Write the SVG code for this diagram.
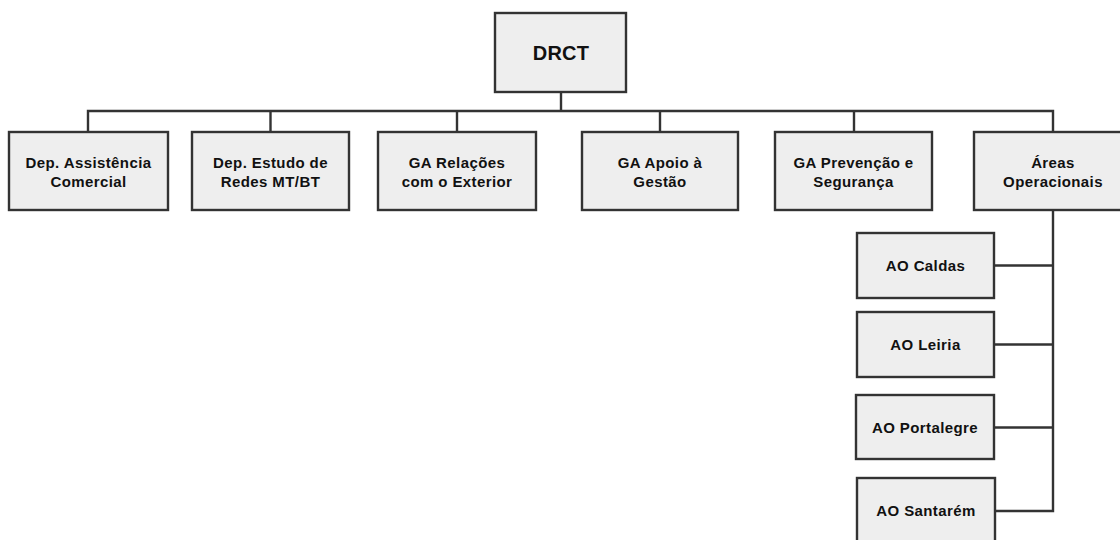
<svg xmlns="http://www.w3.org/2000/svg" width="1120" height="540" viewBox="0 0 1120 540">
  <style>
    .box { fill: #eeeeee; stroke: #333333; stroke-width: 2.4; }
    .lbl { font-family: "Liberation Sans", Arial, sans-serif; font-weight: bold; font-size: 15px; letter-spacing: 0.4px; fill: #111111; text-anchor: middle; }
    .big { font-size: 20px; letter-spacing: 0.2px; }
    .wire { fill: none; stroke: #333333; stroke-width: 2.4; }
  </style>
  <rect width="1120" height="540" fill="#ffffff"/>

  <!-- connectors -->
  <g id="connectors">
    <path class="wire" d="M561 92 V111"/>
    <path class="wire" d="M88 132 V111 H1053 V132"/>
    <path class="wire" d="M270.5 111 V132"/>
    <path class="wire" d="M457 111 V132"/>
    <path class="wire" d="M660 111 V132"/>
    <path class="wire" d="M854 111 V132"/>
    <path class="wire" d="M1053 210 V511 H995"/>
    <path class="wire" d="M994 265.5 H1053"/>
    <path class="wire" d="M994 344.5 H1053"/>
    <path class="wire" d="M994 427.5 H1053"/>
  </g>

  <g id="drct">
    <rect class="box" x="495" y="13" width="131" height="79"/>
    <text class="lbl big" x="561" y="60">DRCT</text>
  </g>

  <g id="dep-assistencia">
    <rect class="box" x="9" y="132" width="159" height="78"/>
    <text class="lbl" x="88.5" y="168">Dep. Assistência</text>
    <text class="lbl" x="88.5" y="187">Comercial</text>
  </g>

  <g id="dep-estudo">
    <rect class="box" x="192" y="132" width="157" height="78"/>
    <text class="lbl" x="270.5" y="168">Dep. Estudo de</text>
    <text class="lbl" x="270.5" y="187">Redes MT/BT</text>
  </g>

  <g id="ga-relacoes">
    <rect class="box" x="378" y="132" width="158" height="78"/>
    <text class="lbl" x="457" y="168">GA Relações</text>
    <text class="lbl" x="457" y="187">com o Exterior</text>
  </g>

  <g id="ga-apoio">
    <rect class="box" x="582" y="132" width="156" height="78"/>
    <text class="lbl" x="660" y="168">GA Apoio à</text>
    <text class="lbl" x="660" y="187">Gestão</text>
  </g>

  <g id="ga-prevencao">
    <rect class="box" x="775" y="132" width="157" height="78"/>
    <text class="lbl" x="853.5" y="168">GA Prevenção e</text>
    <text class="lbl" x="853.5" y="187">Segurança</text>
  </g>

  <g id="areas-operacionais">
    <rect class="box" x="974" y="132" width="158" height="78"/>
    <text class="lbl" x="1053" y="168">Áreas</text>
    <text class="lbl" x="1053" y="187">Operacionais</text>
  </g>

  <g id="ao-caldas">
    <rect class="box" x="857" y="233" width="137" height="65"/>
    <text class="lbl" x="925.5" y="270.5">AO Caldas</text>
  </g>

  <g id="ao-leiria">
    <rect class="box" x="857" y="312" width="137" height="65"/>
    <text class="lbl" x="925.5" y="349.5">AO Leiria</text>
  </g>

  <g id="ao-portalegre">
    <rect class="box" x="856" y="395" width="138" height="64"/>
    <text class="lbl" x="925" y="432.5">AO Portalegre</text>
  </g>

  <g id="ao-santarem">
    <rect class="box" x="857" y="478" width="138" height="65"/>
    <text class="lbl" x="926" y="516">AO Santarém</text>
  </g>
</svg>
